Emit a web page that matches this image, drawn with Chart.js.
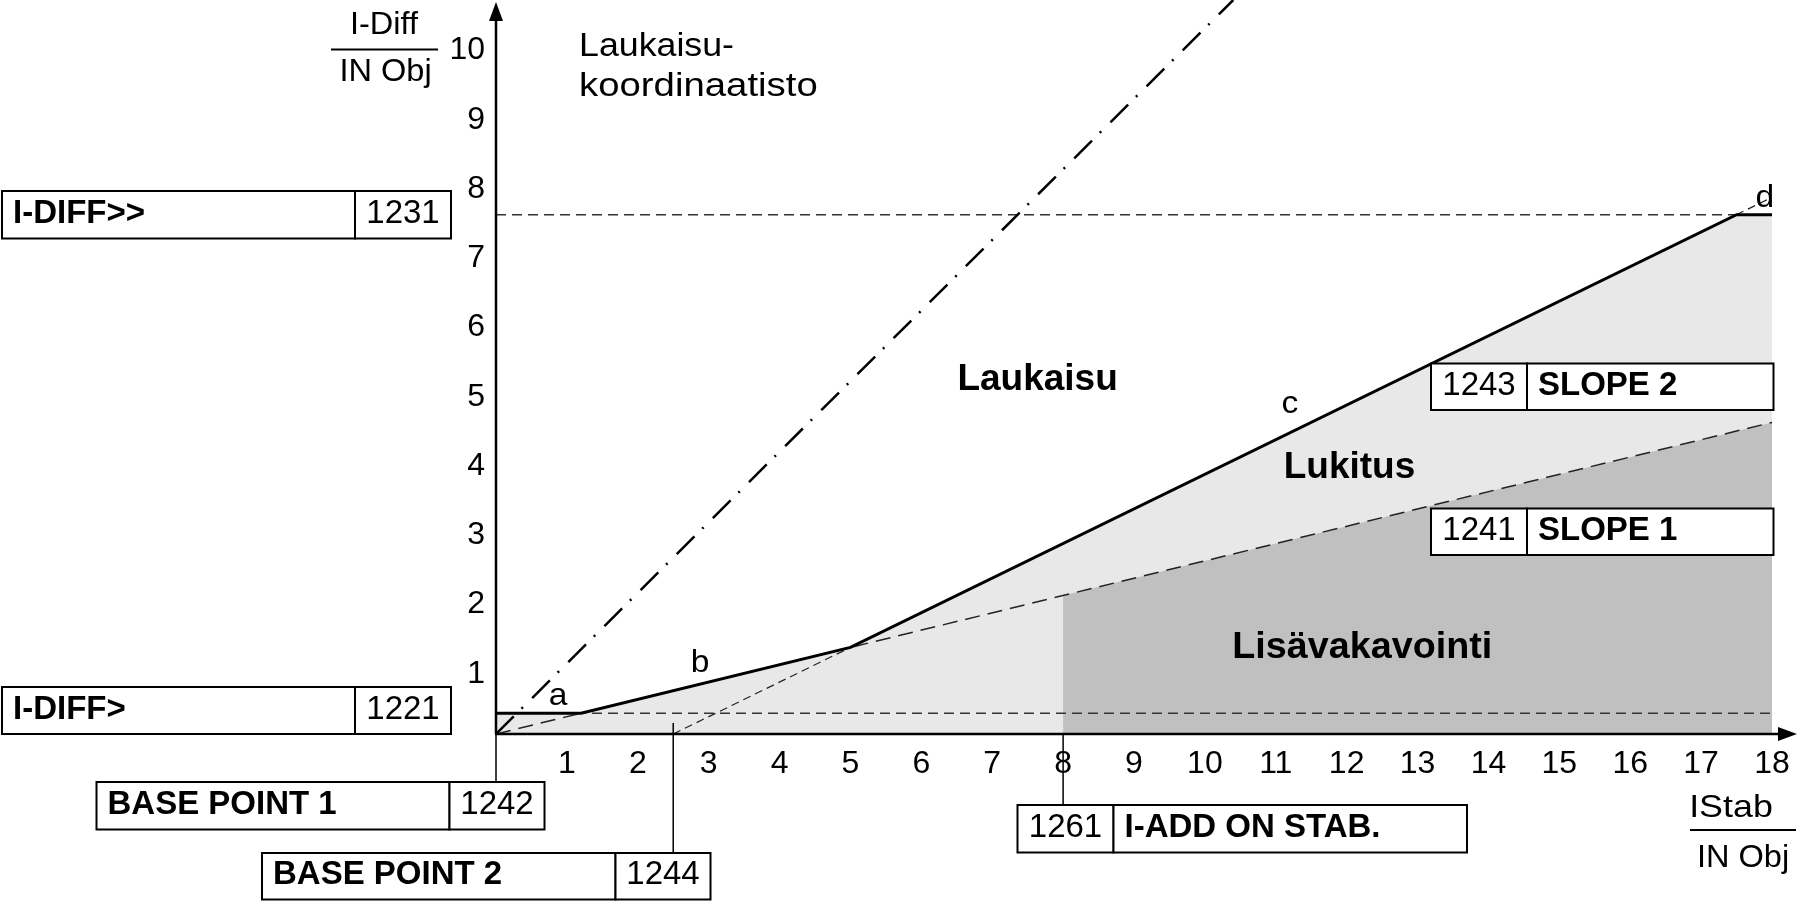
<!DOCTYPE html>
<html>
<head>
<meta charset="utf-8">
<title>Laukaisukoordinaatisto</title>
<script src="https://cdn.jsdelivr.net/npm/chart.js@4.4.1/dist/chart.umd.min.js"></script>
<style>
  html, body { margin: 0; padding: 0; background: #fff; }
  #wrap { width: 1798px; height: 901px; }
</style>
</head>
<body>
<div id="wrap"><canvas id="chart" width="1798" height="901"></canvas></div>
<script>
// arvot luettu kuvasta: x = IStab / IN Obj, y = I-Diff / IN Obj
const xTicks = [1, 2, 3, 4, 5, 6, 7, 8, 9, 10, 11, 12, 13, 14, 15, 16, 17, 18];
const yTicks = [1, 2, 3, 4, 5, 6, 7, 8, 9, 10];

// laukaisukäyrä a-b-c-d
const charX = [0, 1.2, 5, 17.5, 18];
const charY = [0.3, 0.3, 1.25, 7.5, 7.5];

const limitX = [0, 18];
const iDiffLow = [0.3, 0.3];    // I-DIFF>  (1221)
const iDiffHigh = [7.5, 7.5];   // I-DIFF>> (1231)

const slope1X = [0, 18];        // SLOPE 1 (1241), BASE POINT 1
const slope1Y = [0, 4.5];
const slope2X = [2.5, 18];      // SLOPE 2 (1243), BASE POINT 2
const slope2Y = [0, 7.75];

const faultX = [0, 10.4];       // vikakäyrä (pistekatkoviiva)
const faultY = [0, 10.6];

const addStabX = [8, 18];       // I-ADD ON STAB. (1261), lisävakavointialue
const addStabY = [2, 4.5];

const basePoint1 = 0;
const basePoint2 = 2.5;
const addOnStab = 8;

const pts = (xs, ys) => xs.map((x, i) => ({ x: x, y: ys[i] }));

// tekstit ja laatikot
const FONT = '"Liberation Sans", Arial, sans-serif';

function txt(ctx, s, x, y, font, align, sx) {
  ctx.save();
  ctx.font = font;
  ctx.textBaseline = 'middle';
  ctx.textAlign = 'left';
  const w = ctx.measureText(s).width * sx;
  const x0 = align === 'center' ? x - w / 2 : align === 'right' ? x - w : x;
  ctx.translate(x0, y);
  ctx.scale(sx, 1);
  ctx.fillText(s, 0, 0);
  ctx.restore();
}

function line(ctx, x1, y1, x2, y2) {
  ctx.beginPath();
  ctx.moveTo(x1, y1);
  ctx.lineTo(x2, y2);
  ctx.stroke();
}

const boxes = [
  { x: 2, y: 191, h: 47.5, parts: [{ t: 'I-DIFF>>', b: true, w: 353 }, { t: '1231', w: 96 }] },
  { x: 2, y: 687, h: 47, parts: [{ t: 'I-DIFF>', b: true, w: 353 }, { t: '1221', w: 96 }] },
  { x: 96.5, y: 782, h: 47.5, parts: [{ t: 'BASE POINT 1', b: true, w: 353 }, { t: '1242', w: 95 }] },
  { x: 262, y: 853, h: 46.5, parts: [{ t: 'BASE POINT 2', b: true, w: 353.5 }, { t: '1244', w: 95 }] },
  { x: 1017.5, y: 805, h: 47.5, parts: [{ t: '1261', w: 96 }, { t: 'I-ADD ON STAB.', b: true, w: 353.5 }] },
  { x: 1431, y: 363.5, h: 46.5, parts: [{ t: '1243', w: 96 }, { t: 'SLOPE 2', b: true, w: 246.5 }] },
  { x: 1431, y: 508.5, h: 46.5, parts: [{ t: '1241', w: 96 }, { t: 'SLOPE 1', b: true, w: 246.5 }] }
];

const plotLabels = [
  { t: 'a', x: 0.875, y: 0.55, f: '32px ' + FONT, sx: 1.05 },
  { t: 'b', x: 2.88, y: 1.02, f: '32px ' + FONT, sx: 1.05 },
  { t: 'c', x: 11.2, y: 4.77, f: '32px ' + FONT, sx: 1.05 },
  { t: 'd', x: 17.9, y: 7.74, f: '32px ' + FONT, sx: 1.05 },
  { t: 'Laukaisu', x: 7.64, y: 5.11, f: 'bold 37px ' + FONT, sx: 1.0 },
  { t: 'Lukitus', x: 12.04, y: 3.84, f: 'bold 37px ' + FONT, sx: 1.0 },
  { t: 'Lisävakavointi', x: 12.22, y: 1.24, f: 'bold 37px ' + FONT, sx: 1.02 }
];

const drawing = {
  id: 'drawing',
  afterDatasetsDraw(chart) {
    const ctx = chart.ctx;
    const X = v => chart.scales.x.getPixelForValue(v);
    const Y = v => chart.scales.y.getPixelForValue(v);
    const x0 = X(0), y0 = Y(0);
    ctx.save();
    ctx.strokeStyle = '#000';
    ctx.fillStyle = '#000';
    ctx.setLineDash([]);

    // asetteluviivat laatikoihin
    ctx.lineWidth = 1.5;
    line(ctx, X(basePoint1), y0, X(basePoint1), 782);
    line(ctx, X(basePoint2), y0 - 11, X(basePoint2), 853);
    line(ctx, X(addOnStab), y0, X(addOnStab), 805);

    // akselit + nuolet
    ctx.lineWidth = 2.5;
    line(ctx, x0, 14, x0, y0);
    line(ctx, x0 - 1, y0, 1784, y0);
    ctx.beginPath();
    ctx.moveTo(x0, 2); ctx.lineTo(x0 - 7, 21); ctx.lineTo(x0 + 7, 21); ctx.closePath();
    ctx.fill();
    ctx.beginPath();
    ctx.moveTo(1797, y0); ctx.lineTo(1778, y0 - 7); ctx.lineTo(1778, y0 + 7); ctx.closePath();
    ctx.fill();

    // asteikot
    xTicks.forEach(v => txt(ctx, String(v), X(v), y0 + 30, '32px ' + FONT, 'center', 1.0));
    yTicks.forEach(v => txt(ctx, String(v), 485, Y(v) + 9, '32px ' + FONT, 'right', 1.0));

    // akselien otsikot (murtoluvut)
    ctx.lineWidth = 2;
    txt(ctx, 'I-Diff', 384, 25, '31px ' + FONT, 'center', 1.05);
    line(ctx, 331, 49.5, 438, 49.5);
    txt(ctx, 'IN Obj', 385.5, 72, '31px ' + FONT, 'center', 1.05);
    txt(ctx, 'IStab', 1731, 808, '32px ' + FONT, 'center', 1.12);
    line(ctx, 1690, 830, 1796, 830);
    txt(ctx, 'IN Obj', 1743, 858, '31px ' + FONT, 'center', 1.05);

    txt(ctx, 'Laukaisu-', 579, 47, '32.5px ' + FONT, 'left', 1.1);
    txt(ctx, 'koordinaatisto', 579, 87, '32.5px ' + FONT, 'left', 1.18);

    plotLabels.forEach(l => txt(ctx, l.t, X(l.x), Y(l.y), l.f, 'center', l.sx));

    // parametrilaatikot
    ctx.lineWidth = 2;
    boxes.forEach(bx => {
      let cx = bx.x;
      const cy = bx.y + bx.h / 2 - 1;
      bx.parts.forEach(p => {
        ctx.fillStyle = '#fff';
        ctx.fillRect(cx, bx.y, p.w, bx.h);
        ctx.strokeRect(cx, bx.y, p.w, bx.h);
        ctx.fillStyle = '#000';
        if (p.b) txt(ctx, p.t, cx + 11, cy, 'bold 33px ' + FONT, 'left', 1.0);
        else txt(ctx, p.t, cx + p.w / 2, cy, '33px ' + FONT, 'center', 1.0);
        cx += p.w;
      });
    });
    ctx.restore();
  }
};

const base = { showLine: true, pointRadius: 0, tension: 0, borderCapStyle: 'butt', fill: false };

new Chart(document.getElementById('chart').getContext('2d'), {
  type: 'scatter',
  data: {
    datasets: [
      Object.assign({}, base, { label: 'Lukitus', data: pts(charX, charY), fill: 'origin',
        backgroundColor: '#e8e8e8', borderWidth: 0, borderColor: 'rgba(0,0,0,0)', order: 10 }),
      Object.assign({}, base, { label: 'Lisävakavointi', data: pts(addStabX, addStabY), fill: 'origin',
        backgroundColor: '#c0c0c0', borderWidth: 0, borderColor: 'rgba(0,0,0,0)', order: 9 }),
      Object.assign({}, base, { label: 'I-DIFF>', data: pts(limitX, iDiffLow),
        borderColor: '#333', borderWidth: 1.5, borderDash: [10, 6], order: 5 }),
      Object.assign({}, base, { label: 'I-DIFF>>', data: pts(limitX, iDiffHigh),
        borderColor: '#333', borderWidth: 1.5, borderDash: [10, 6], order: 5 }),
      Object.assign({}, base, { label: 'SLOPE 1', data: pts(slope1X, slope1Y),
        borderColor: '#222', borderWidth: 1.5, borderDash: [15, 8], order: 5 }),
      Object.assign({}, base, { label: 'SLOPE 2', data: pts(slope2X, slope2Y),
        borderColor: '#222', borderWidth: 1.2, borderDash: [8, 5], order: 5 }),
      Object.assign({}, base, { label: 'vika', data: pts(faultX, faultY),
        borderColor: '#000', borderWidth: 2.5, borderDash: [25, 11, 2, 13], order: 4 }),
      Object.assign({}, base, { label: 'laukaisukäyrä', data: pts(charX, charY),
        borderColor: '#000', borderWidth: 3, order: 1 })
    ]
  },
  options: {
    responsive: false,
    animation: false,
    events: [],
    layout: { padding: { left: 496, right: 26, top: 0, bottom: 167 } },
    plugins: { legend: { display: false }, tooltip: { enabled: false } },
    scales: {
      x: { type: 'linear', min: 0, max: 18, display: false },
      y: { type: 'linear', min: 0, max: 10.6, display: false }
    }
  },
  plugins: [drawing]
});
</script>
</body>
</html>
